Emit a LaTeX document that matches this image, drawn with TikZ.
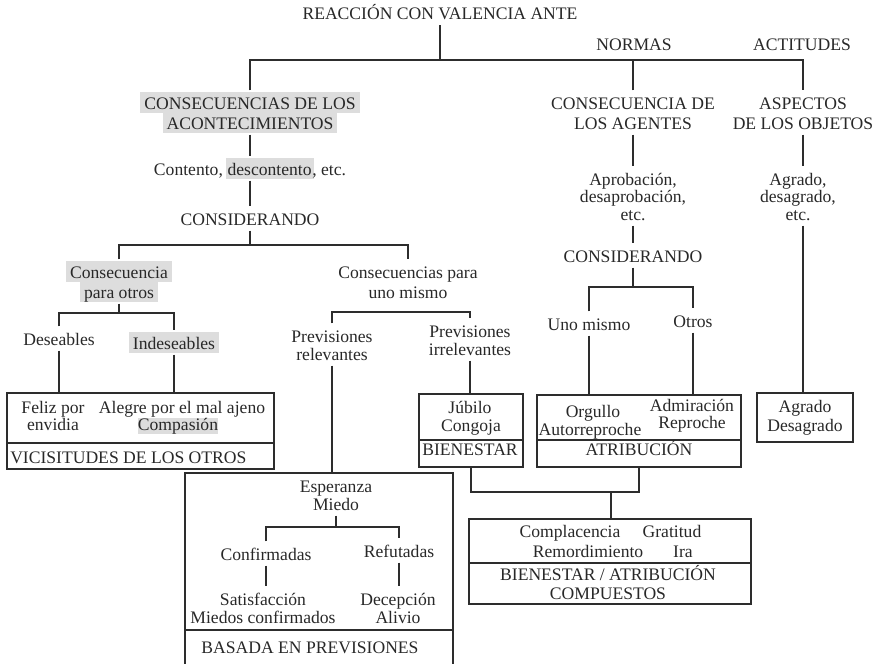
\documentclass[tikz,border=0pt]{standalone}
\usepackage{fontspec}
\setmainfont{Liberation Serif}
\usetikzlibrary{fit}
\definecolor{ink}{RGB}{40,40,40}
\definecolor{linecol}{RGB}{45,45,45}
\definecolor{hlgray}{RGB}{221,221,221}
% grey marker behind a word or line (optional side padding)
\newcommand\hl[2][3pt]{{\setlength{\fboxsep}{0pt}\colorbox{hlgray}{\rule[-3pt]{0pt}{15.75pt}\hspace{#1}#2\hspace{#1}}}}
% lower grey marker, used under a line that sits close below another
\newcommand\hllow[1]{{\setlength{\fboxsep}{0pt}\colorbox{hlgray}{\rule[-3pt]{0pt}{11.5pt}#1}}}

\begin{document}
\begin{tikzpicture}[x=0.75pt,y=-0.75pt,
  lbl/.style={anchor=base, inner xsep=0pt, inner ysep=1.1pt, text height=12.75pt,
              text depth=3pt, text=ink, font=\fontsize{13.2}{15.75}\selectfont},
  frame/.style={draw=linecol, line width=1.1pt, inner sep=0pt},
  wire/.style={draw=linecol, line width=1.1pt}]
\useasboundingbox (0,0) rectangle (876,664);

% ---------- upper labels ----------
\node[lbl] (root) at (440,19.5) {REACCIÓN CON VALENCIA ANTE};
\node[lbl] (normas) at (634,50) {NORMAS};
\node[lbl] (actitudes) at (802,50) {ACTITUDES};

\node[lbl] (acont1) at (250,109) {\hl{CONSECUENCIAS DE LOS}};
\node[lbl] (acont2) at (250,129) {\hl{ACONTECIMIENTOS}};
\node[lbl] (agentes1) at (633,109) {CONSECUENCIA DE};
\node[lbl] (agentes2) at (633,129) {LOS AGENTES};
\node[lbl] (aspectos1) at (803,109) {ASPECTOS};
\node[lbl] (aspectos2) at (803,129) {DE LOS OBJETOS};

\node[lbl] (contento) at (250,175) {Contento,\hspace{2pt}\hl[1.5pt]{descontento}\hspace{-1pt}, etc.};
\node[lbl] (consid1) at (250,225) {CONSIDERANDO};

\node[lbl] (aprob1) at (633,185) {Aprobación,};
\node[lbl] (aprob2) at (633,202.5) {desaprobación,};
\node[lbl] (aprob3) at (633,220) {etc.};
\node[lbl] (agr1) at (798,185) {Agrado,};
\node[lbl] (agr2) at (798,202.5) {desagrado,};
\node[lbl] (agr3) at (798,220) {etc.};
\node[lbl] (consid2) at (633,262) {CONSIDERANDO};

\node[lbl] (otros1) at (119,278) {\hl{Consecuencia}};
\node[lbl] (otros2) at (119,298) {\hl{para otros}};
\node[lbl] (mismo1) at (408,278) {Consecuencias para};
\node[lbl] (mismo2) at (408,298) {uno mismo};
\node[lbl] (deseables) at (59,345) {Deseables};
\node[lbl] (indeseables) at (174,349) {\hl{Indeseables}};
\node[lbl] (prevrel1) at (332,342) {Previsiones};
\node[lbl] (prevrel2) at (332,360) {relevantes};
\node[lbl] (previrr1) at (470,337) {Previsiones};
\node[lbl] (previrr2) at (470,355) {irrelevantes};
\node[lbl] (unomismo) at (589,330) {Uno mismo};
\node[lbl] (otrosB) at (693,327) {Otros};

% ---------- boxes ----------
\node[frame, fit={(7,393) (274,469)}] (vicbox) {};
\node[frame, fit={(419,394) (523,467)}] (bienbox) {};
\node[frame, fit={(537,395) (741,467)}] (atribbox) {};
\node[frame, fit={(757,393) (853,442)}] (agrbox) {};
\node[frame, fit={(469,519) (751,604)}] (compbox) {};
\node[frame, fit={(185,473) (453,672)}] (espbox) {};

\draw[wire] (vicbox.west |- 0,443) -- (vicbox.east |- 0,443);
\draw[wire] (bienbox.west |- 0,440) -- (bienbox.east |- 0,440);
\draw[wire] (atribbox.west |- 0,440) -- (atribbox.east |- 0,440);
\draw[wire] (compbox.west |- 0,563) -- (compbox.east |- 0,563);
\draw[wire] (espbox.west |- 0,630) -- (espbox.east |- 0,630);

% box contents
\node[lbl] (feliz1) at (53,413) {Feliz por};
\node[lbl] (feliz2) at (53,430) {envidia};
\node[lbl] (alegre2) at (178,430) {\hllow{Compasión}};
\node[lbl] (alegre1) at (182,413) {Alegre por el mal ajeno};
\node[lbl, anchor=base west] (vic) at (10,463) {VICISITUDES DE LOS OTROS};

\node[lbl] (jubilo) at (470,413) {Júbilo};
\node[lbl] (congoja) at (471,431) {Congoja};
\node[lbl] (bienestar) at (470,455) {BIENESTAR};

\node[lbl] (orgullo) at (593,417) {Orgullo};
\node[lbl] (autorrep) at (590,435) {Autorreproche};
\node[lbl] (admir) at (692,411) {Admiración};
\node[lbl] (reproche) at (692,428) {Reproche};
\node[lbl] (atrib) at (639,455) {ATRIBUCIÓN};

\node[lbl] (agrado) at (805,412) {Agrado};
\node[lbl] (desagrado) at (805,431) {Desagrado};

\node[lbl] (complac) at (570,537) {Complacencia};
\node[lbl] (gratitud) at (672,537) {Gratitud};
\node[lbl] (remord) at (588,557) {Remordimiento};
\node[lbl] (ira) at (683,557) {Ira};
\node[lbl] (comp1) at (608,580) {BIENESTAR / ATRIBUCIÓN};
\node[lbl] (comp2) at (608,599) {COMPUESTOS};

\node[lbl] (esper) at (336,492) {Esperanza};
\node[lbl] (miedo) at (336,510) {Miedo};
\node[lbl] (confirm) at (266,560) {Confirmadas};
\node[lbl] (refut) at (399,557) {Refutadas};
\node[lbl] (satisf) at (263,605) {Satisfacción};
\node[lbl] (miedosc) at (263,623) {Miedos confirmados};
\node[lbl] (decep) at (398,605) {Decepción};
\node[lbl] (alivio) at (398,623) {Alivio};
\node[lbl] (basada) at (310,653) {BASADA EN PREVISIONES};

% ---------- connectors ----------
\coordinate (rootjoin) at (440,60);
\draw[wire] (root.south) -- (rootjoin);
\draw[wire] (acont1.north) |- (aspectos1.north |- rootjoin) -- (aspectos1.north);
\draw[wire] (agentes1.north) -- (agentes1.north |- rootjoin);

\draw[wire] (acont2.south) -- (contento.north);
\draw[wire] (contento.south) -- (consid1.north);
\coordinate (consjoin) at (250,245);
\draw[wire] (consid1.south) -- (consjoin);
\draw[wire] (otros1.north) |- (consjoin) -| (mismo1.north);

\coordinate (otrosjoin) at (119,313);
\draw[wire] (otros2.south) -- (otrosjoin);
\draw[wire] (deseables.north) |- (otrosjoin) -| (indeseables.north);
\draw[wire] (deseables.south) -- (deseables.south |- vicbox.north);
\draw[wire] (indeseables.south) -- (indeseables.south |- vicbox.north);

\coordinate (prevjoin) at (408,312);
\draw[wire] (prevrel1.north) |- (previrr1.north |- prevjoin) -- (previrr1.north);
\draw[wire] (prevrel2.south) -- (prevrel2.south |- espbox.north);
\draw[wire] (previrr2.south) -- (previrr2.south |- bienbox.north);

\draw[wire] (agentes2.south) -- (aprob1.north);
\draw[wire] (aprob3.south) -- (consid2.north);
\coordinate (agjoin) at (633,287);
\draw[wire] (consid2.south) -- (agjoin);
\draw[wire] (unomismo.north) |- (agjoin) -| (otrosB.north);
\draw[wire] (unomismo.south) -- (unomismo.south |- atribbox.north);
\draw[wire] (otrosB.south) -- (otrosB.south |- atribbox.north);

\draw[wire] (aspectos2.south) -- (aspectos2.south |- agr1.north);
\draw[wire] (aspectos2.south |- agr3.south) -- (aspectos2.south |- agrbox.north);

\coordinate (compjoin) at (611,492);
\draw[wire] (bienbox.south) |- (atribbox.south |- compjoin) -- (atribbox.south);
\draw[wire] (compjoin) -- (compjoin |- compbox.north);

\coordinate (espjoin) at (336,527);
\draw[wire] (miedo.south) -- (espjoin);
\draw[wire] (confirm.north) |- (espjoin) -| (refut.north);
\draw[wire] (confirm.south) -- (confirm.south |- satisf.north);
\draw[wire] (refut.south) -- (refut.south |- decep.north);
\end{tikzpicture}
\end{document}
